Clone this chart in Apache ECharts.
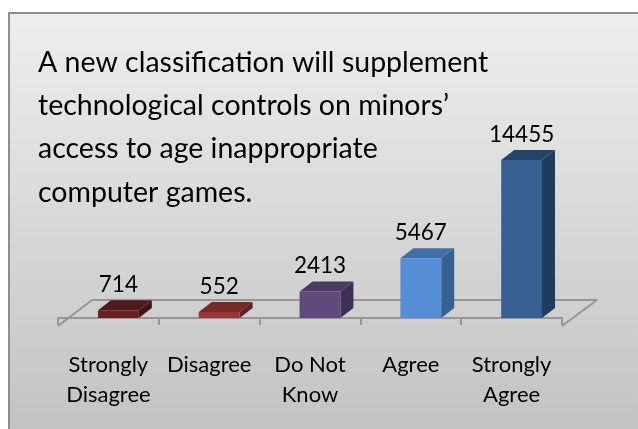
<!DOCTYPE html>
<html>
<head>
<meta charset="utf-8">
<style>
  html, body { margin: 0; padding: 0; background: #fff; }
  #chart { width: 638px; height: 429px; }
</style>
<script src="https://cdn.jsdelivr.net/npm/echarts@6/dist/echarts.min.js"></script>
</head>
<body>
<div id="chart"></div>
<script>
const titleText = "A new classification will supplement\ntechnological controls on minors’\naccess to age inappropriate\ncomputer games."
const categories = ["Strongly\nDisagree", "Disagree", "Do Not\nKnow", "Agree", "Strongly\nAgree"]
const responses = [714, 552, 2413, 5467, 14455]

// front, top, side
const barColors = [
  ["#6b2020", "#4f1a1a", "#3f1515"],
  ["#9a3535", "#772a2a", "#5e2020"],
  ["#604a7b", "#4b3a61", "#3e3052"],
  ["#558ed5", "#3f6fa8", "#366092"],
  ["#376092", "#264469", "#203c5c"]
]

const FONT = "Lato, 'Noto Sans', sans-serif"
const DEPTH_X = 13
const DEPTH_Y = 10
// bars sit on the middle of the floor, to the right of the tick band centre
const FLOOR_SHIFT = 10

const chart = echarts.init(document.getElementById("chart"), null, { renderer: "canvas" })

function renderFloor(params, api) {
  const cs = params.coordSys
  const frontY = cs.y + cs.height + 8
  const left = cs.x
  const right = cs.x + cs.width
  const backY = frontY - 26
  return {
    type: "polyline",
    silent: true,
    shape: { points: [[left, frontY], [left + 34, backY], [right + 35, backY], [right, frontY]] },
    style: { stroke: "#969696", lineWidth: 2, fill: null, lineJoin: "bevel" }
  }
}

function renderBar(params, api) {
  const i = api.value(0)
  const top = api.coord([i, api.value(1)])
  const base = api.coord([i, 0])
  const width = api.size([1, 0])[0] * 0.405
  const cx = top[0] + FLOOR_SHIFT
  const x0 = cx - width / 2
  const x1 = cx + width / 2
  const [front, topFace, side] = barColors[i]
  return {
    type: "group",
    children: [
      {
        type: "polygon",
        shape: { points: [[x1, top[1]], [x1 + DEPTH_X, top[1] - DEPTH_Y], [x1 + DEPTH_X, base[1] - DEPTH_Y], [x1, base[1]]] },
        style: { fill: side }
      },
      {
        type: "polygon",
        shape: { points: [[x0, top[1]], [x0 + DEPTH_X, top[1] - DEPTH_Y], [x1 + DEPTH_X, top[1] - DEPTH_Y], [x1, top[1]]] },
        style: { fill: topFace }
      },
      {
        type: "rect",
        shape: { x: x0, y: top[1], width: width, height: base[1] - top[1] },
        style: { fill: front }
      },
      {
        type: "text",
        style: {
          text: String(api.value(1)),
          x: cx,
          y: top[1] - DEPTH_Y - 4,
          align: "center",
          verticalAlign: "bottom",
          font: "22.5px " + FONT,
          fill: "#000"
        }
      }
    ]
  }
}

chart.setOption({
  animation: false,
  backgroundColor: "#fff",
  title: {
    text: titleText,
    left: 38,
    top: 41,
    padding: 0,
    textStyle: { fontFamily: FONT, fontSize: 28.5, fontWeight: "normal", color: "#000", lineHeight: 43.3 }
  },
  graphic: [
    {
      type: "rect",
      z: -10,
      silent: true,
      shape: { x: 9, y: 13, width: 660, height: 450 },
      style: {
        stroke: "#8e8e8e",
        lineWidth: 2,
        fill: new echarts.graphic.LinearGradient(0, 0, 0, 1, [
          { offset: 0, color: "#eeeeee" },
          { offset: 0.92, color: "#c3c3c3" },
          { offset: 1, color: "#c3c3c3" }
        ])
      }
    }
  ],
  grid: { left: 58, right: 76, top: 160, bottom: 111 },
  xAxis: {
    type: "category",
    data: categories,
    offset: 8,
    axisLine: { lineStyle: { color: "#969696", width: 2 } },
    axisTick: { show: true, alignWithLabel: false, length: 7, lineStyle: { color: "#969696", width: 2 } },
    axisLabel: { interval: 0, fontFamily: FONT, fontSize: 22, color: "#000", lineHeight: 30, margin: 24 }
  },
  yAxis: {
    type: "value",
    min: 0,
    max: 14455,
    show: false
  },
  series: [
    {
      type: "custom",
      renderItem: renderFloor,
      data: [0],
      silent: true,
      z: 1
    },
    {
      type: "custom",
      name: "Responses",
      renderItem: renderBar,
      encode: { x: 0, y: 1 },
      data: responses.map((v, i) => [i, v]),
      z: 2
    }
  ]
})
</script>
</body>
</html>
